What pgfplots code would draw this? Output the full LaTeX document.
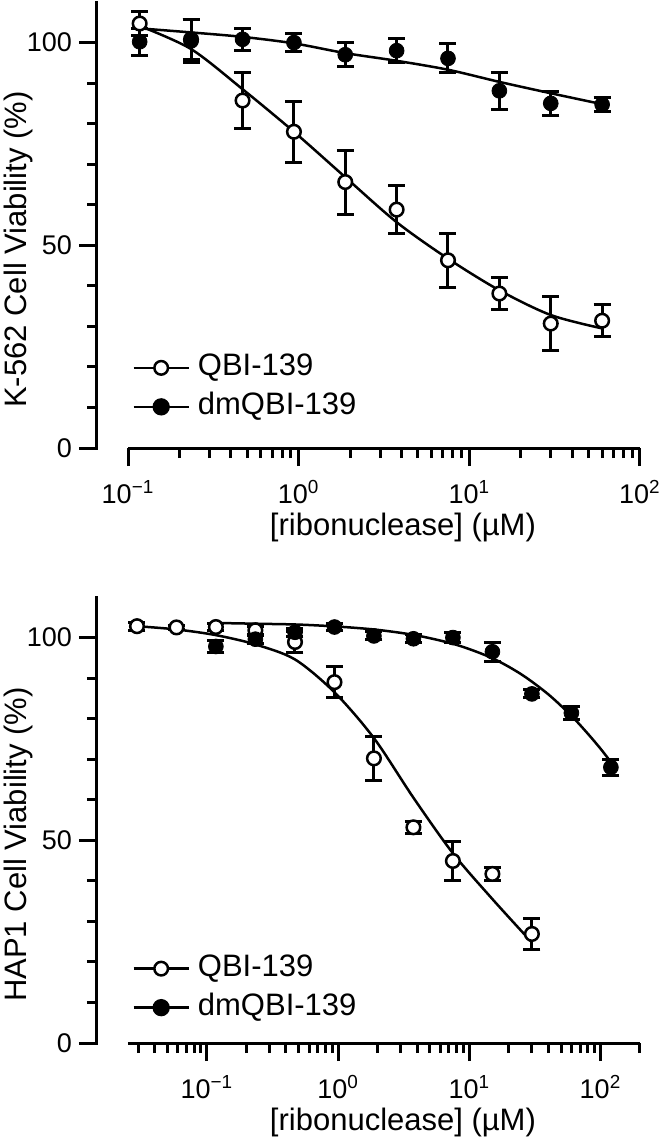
\documentclass[border=0pt]{standalone}
\usepackage{fontspec}
\setmainfont{Liberation Sans}
\usepackage{pgfplots}
\usepackage{pgfplotstable}
\pgfplotsset{compat=1.18}

% ---------- top panel (K-562) ----------
\pgfplotstableread{
x y e
0.117 104.7 3.0
0.234 100.8 5.0
0.469 85.7 7.0
0.938 78.0 7.5
1.875 65.6 7.9
3.75 58.8 6.0
7.5 46.3 6.6
15 38.1 4.0
30 30.7 6.7
60 31.4 4.0
}\topqbi
\pgfplotstableread{
x y e
0.117 100.2 3.3
0.234 100.4 5.3
0.469 100.8 2.7
0.938 100.0 2.3
1.875 97.0 2.9
3.75 98.0 3.0
7.5 96.1 3.6
15 88.1 4.6
30 85.0 2.9
60 84.7 1.7
}\topdm
\pgfplotstableread{
x y
0.117 104.1
0.234 98.4
0.469 88.5
0.938 78.0
1.875 66.8
3.75 55.7
7.5 46.7
15 38.9
30 32.8
60 29.5
}\topqbifit
\pgfplotstableread{
x y
0.117 103.5
0.234 102.5
0.469 101.4
0.938 99.8
1.875 97.4
3.75 95.5
7.5 93.3
15 90.3
30 87.5
60 84.8
}\topdmfit

% ---------- bottom panel (HAP1) ----------
\pgfplotstableread{
x y e
0.0293 102.8 1.0
0.0586 102.5 0.5
0.117 102.6 0.8
0.234 101.8 1.0
0.469 98.9 2.6
0.938 89.0 3.8
1.875 70.2 5.4
3.75 53.2 1.5
7.5 44.9 4.7
15 41.7 1.5
30 26.9 3.9
}\botqbi
\pgfplotstableread{
x y e
0.117 97.8 1.5
0.234 99.6 1.0
0.469 101.3 1.0
0.938 102.6 0.8
1.875 100.4 1.0
3.75 99.7 1.0
7.5 100.0 1.2
15 96.5 2.3
30 86.1 1.0
60 81.4 1.5
120 68.0 2.0
}\botdm
\pgfplotstableread{
x y
0.0293 102.8
0.0586 102.0
0.117 100.6
0.234 98.3
0.469 94.6
0.938 86.5
1.875 75.2
3.75 60.5
7.5 46.8
15 35.5
30 24.8
}\botqbifit
\pgfplotstableread{
x y
0.117 103.6
0.25 103.4
0.5 103.2
1 102.7
2 101.9
4 100.5
8 98.2
15 94.9
25 90.9
40 86.0
60 80.7
80 76.3
100 72.6
120 69.3
}\botdmfit

\pgfplotsset{
  fitline/.style={black, line width=1.25pt, smooth, forget plot},
  openpt/.style={only marks, mark=*, mark size=3.4pt, mark options={fill=white, draw=black, line width=1.25pt}, forget plot,
    error bars/.cd, y dir=both, y explicit,
    error bar style={line width=1.5pt, black},
    error mark options={rotate=90, mark size=4.25pt, line width=1.5pt, black}},
  fillpt/.style={only marks, mark=*, mark size=3.7pt, mark options={fill=black, draw=black}, forget plot,
    error bars/.cd, y dir=both, y explicit,
    error bar style={line width=1.5pt, black},
    error mark options={rotate=90, mark size=4.25pt, line width=1.5pt, black}},
}

\begin{document}
\begin{tikzpicture}
\useasboundingbox (0,0) rectangle (332.5pt,-568.5pt);

% ---------------- top panel ----------------
\begin{axis}[
  xmode=log,
  scale only axis, width=271.5pt, height=223pt,
  at={(48.5pt,-224pt)}, anchor=south west,
  xmin=0.0658, xmax=100, ymin=0, ymax=110,
  axis lines*=left,
  axis line style={draw=none},
  tick align=outside,
  major tick length=9pt, minor tick length=5pt,
  major tick style={black, line width=1.5pt},
  minor tick style={black, line width=1.5pt},
  ytick={0,50,100}, yticklabels={0,50,100},
  minor ytick={10,20,30,40,60,70,80,90},
  xtick={0.1,1,10,100},
  xticklabels={10\textsuperscript{−1},10\textsuperscript{0},10\textsuperscript{1},10\textsuperscript{2}},
  minor xtick={0.2,0.3,0.4,0.5,0.6,0.7,0.8,0.9,2,3,4,5,6,7,8,9,20,30,40,50,60,70,80,90},
  ticklabel style={font=\fontsize{13.5}{16}\selectfont},
  xticklabel style={yshift=-3.5pt},
  xlabel={[ribonuclease] (µM)},
  ylabel={K-562 Cell Viability (\%)},
  every axis x label/.style={at={(rel axis cs:0.5635,0)}, anchor=center, yshift=-39.5pt, font=\fontsize{15.5}{18}\selectfont},
  every axis y label/.style={at={(axis description cs:-0.1455,0.445)}, rotate=90, anchor=center, font=\fontsize{15.5}{18}\selectfont},
  clip=false,
  legend cell align=left,
  legend image code/.code={\draw[mark repeat=2,mark phase=2,#1] plot coordinates {(0pt,0pt) (13.75pt,0pt) (27.5pt,0pt)};},
  legend style={draw=none, fill=none, inner sep=0pt, font=\fontsize{15.5}{18}\selectfont,
    nodes={inner sep=0pt, text height=11pt, text depth=3pt},
    row sep=5.5pt, column sep=4pt,
    at={(rel axis cs:0.0645,0.06)}, anchor=south west},
]
\draw[line width=1.5pt] (axis cs:0.1,0) -- (axis cs:100,0);
\draw[line width=1.5pt, line cap=rect] (rel axis cs:0,0) -- (rel axis cs:0,1);
\addplot[fitline] table[x=x,y=y] {\topqbifit};
\addplot[fitline] table[x=x,y=y] {\topdmfit};
\addplot[openpt] table[x=x,y=y,y error=e] {\topqbi};
\addplot[fillpt] table[x=x,y=y,y error=e] {\topdm};
\addlegendimage{black, line width=1.25pt, mark=*, mark size=3.4pt, mark options={fill=white, draw=black, line width=1.25pt}}
\addlegendentry{QBI-139}
\addlegendimage{black, line width=1.25pt, mark=*, mark size=3.7pt, mark options={fill=black, draw=black}}
\addlegendentry{dmQBI-139}
\end{axis}

% ---------------- bottom panel ----------------
\begin{axis}[
  xmode=log,
  scale only axis, width=271.5pt, height=223pt,
  at={(48.5pt,-521.5pt)}, anchor=south west,
  xmin=0.01452, xmax=200, ymin=0, ymax=110,
  axis lines*=left,
  axis line style={draw=none},
  tick align=outside,
  major tick length=9pt, minor tick length=5pt,
  major tick style={black, line width=1.5pt},
  minor tick style={black, line width=1.5pt},
  ytick={0,50,100}, yticklabels={0,50,100},
  minor ytick={10,20,30,40,60,70,80,90},
  xtick={0.1,1,10,100},
  xticklabels={10\textsuperscript{−1},10\textsuperscript{0},10\textsuperscript{1},10\textsuperscript{2}},
  minor xtick={0.03,0.04,0.05,0.06,0.07,0.08,0.09,0.2,0.3,0.4,0.5,0.6,0.7,0.8,0.9,2,3,4,5,6,7,8,9,20,30,40,50,60,70,80,90,200},
  ticklabel style={font=\fontsize{13.5}{16}\selectfont},
  xticklabel style={yshift=-3.5pt},
  xlabel={[ribonuclease] (µM)},
  ylabel={HAP1 Cell Viability (\%)},
  every axis x label/.style={at={(rel axis cs:0.5635,0)}, anchor=center, yshift=-39.5pt, font=\fontsize{15.5}{18}\selectfont},
  every axis y label/.style={at={(axis description cs:-0.1455,0.445)}, rotate=90, anchor=center, font=\fontsize{15.5}{18}\selectfont},
  clip=false,
  legend cell align=left,
  legend image code/.code={\draw[mark repeat=2,mark phase=2,#1] plot coordinates {(0pt,0pt) (13.75pt,0pt) (27.5pt,0pt)};},
  legend style={draw=none, fill=none, inner sep=0pt, font=\fontsize{15.5}{18}\selectfont,
    nodes={inner sep=0pt, text height=11pt, text depth=3pt},
    row sep=5.5pt, column sep=4pt,
    at={(rel axis cs:0.0645,0.047)}, anchor=south west},
]
\draw[line width=1.5pt] (axis cs:0.025,0) -- (axis cs:200,0);
\draw[line width=1.5pt, line cap=rect] (rel axis cs:0,0) -- (rel axis cs:0,1);
\addplot[fitline] table[x=x,y=y] {\botqbifit};
\addplot[fitline] table[x=x,y=y] {\botdmfit};
\addplot[openpt] table[x=x,y=y,y error=e] {\botqbi};
\addplot[fillpt] table[x=x,y=y,y error=e] {\botdm};
\addlegendimage{black, line width=1.25pt, mark=*, mark size=3.4pt, mark options={fill=white, draw=black, line width=1.25pt}}
\addlegendentry{QBI-139}
\addlegendimage{black, line width=1.25pt, mark=*, mark size=3.7pt, mark options={fill=black, draw=black}}
\addlegendentry{dmQBI-139}
\end{axis}
\end{tikzpicture}
\end{document}
